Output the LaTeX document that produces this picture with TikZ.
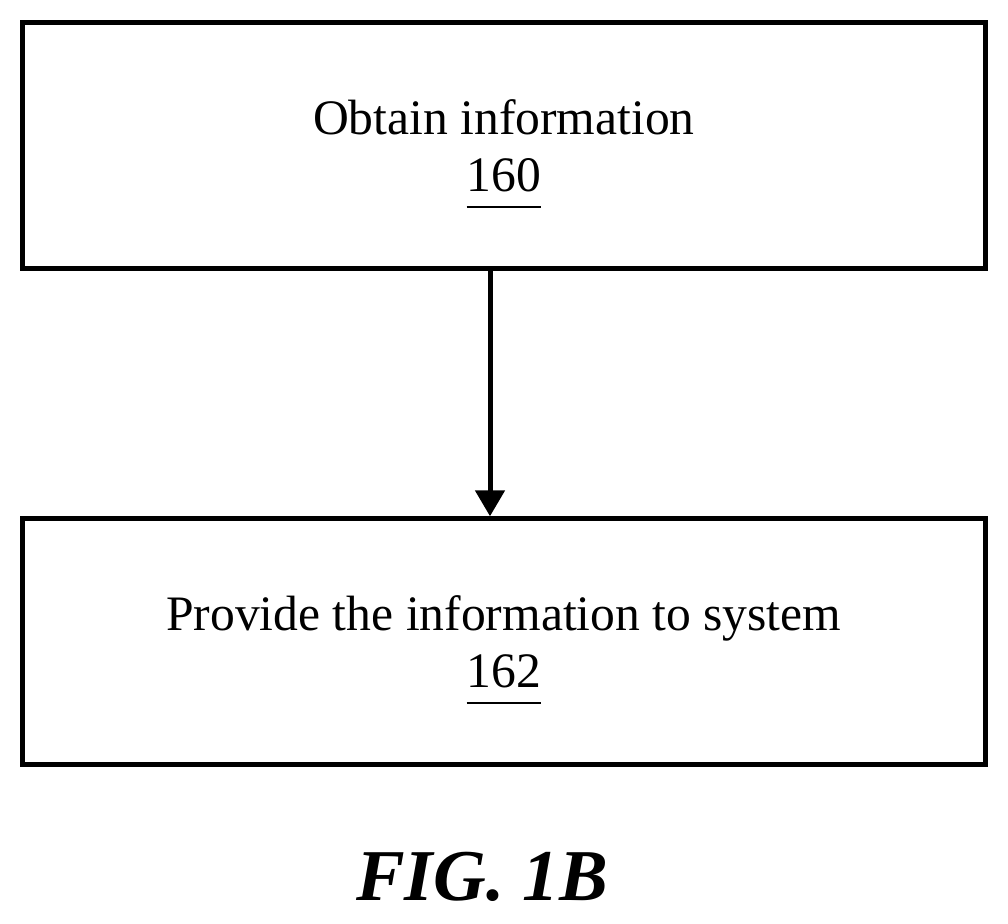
\documentclass[tikz,border=0pt]{standalone}
\usepackage{fontspec}
\setmainfont{Liberation Serif}
\usetikzlibrary{positioning, arrows.meta}
\tikzset{>={Triangle[width=14.5pt,length=13pt]},
every box/.style={draw, line width=2.5pt, minimum width=481.25pt, minimum height=123pt,
  align=center, font=\fontsize{24.8}{28.5}\selectfont},
}
\newcommand{\refnum}[1]{\setbox0\hbox{#1}\rlap{\smash{\rule[-8pt]{\wd0}{1pt}}}\box0}

\begin{document}
\begin{tikzpicture}
    \useasboundingbox (0,0) rectangle (504pt,-462pt);
    \node[every box] (obtain) at (251.9pt,-72.9pt) {Obtain information\\\refnum{160}};
    \node[every box, below=122.5pt of obtain] (provide) {Provide the information to system\\\refnum{162}};
    \draw[->, line width=2.5pt] ([xshift=-6.9pt]obtain.south) -- ([xshift=-6.9pt]provide.north);
    \node[font=\fontsize{36.5}{40}\selectfont\bfseries\itshape, anchor=base] (fig) at (241pt,-450.5pt) {FIG. 1B};
\end{tikzpicture}
\end{document}
